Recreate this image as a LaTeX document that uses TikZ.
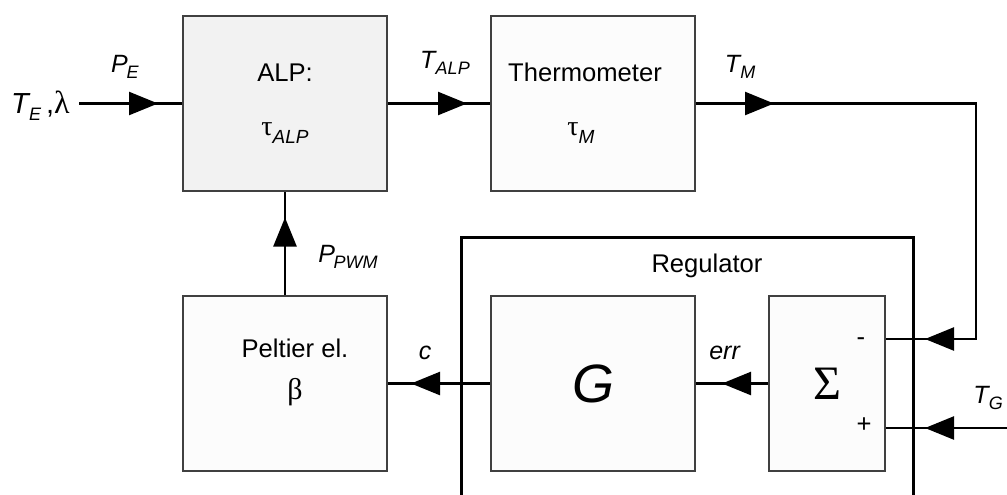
\documentclass[tikz,border=0pt]{standalone}
\usepackage{fontspec}
\setmainfont{Liberation Sans}
\newfontfamily\grk{Liberation Serif}
\usetikzlibrary{arrows.meta, positioning, decorations.markings}

\definecolor{boxgray}{HTML}{404040}
\definecolor{alpfill}{HTML}{F2F2F2}
\definecolor{boxfill}{HTML}{FCFCFC}

\newcommand{\sig}[2]{\textit{#1}\kern-0.05em\raisebox{-0.45ex}{\fontsize{9}{9}\selectfont\textit{#2}}}
\newcommand{\gsig}[2]{{\fontsize{14}{14}\selectfont\grk #1}\raisebox{-0.6ex}{\fontsize{9.5}{9.5}\selectfont\textit{#2}}}

\begin{document}
\begin{tikzpicture}[x=0.5pt, y=-0.5pt, font=\fontsize{12.8}{15}\selectfont,
    block/.style={draw=boxgray, line width=1pt, fill=boxfill, minimum width=102pt, minimum height=87.5pt, inner sep=0pt, align=center},
    flow/.style={line width=1.2pt},
    flowtip/.style={postaction={decorate, decoration={markings, mark=at position #1 with {\arrow{Triangle[length=14.5pt, width=11.5pt]}}}}},
    lab/.style={font=\fontsize{12.5}{14}\selectfont, inner sep=0pt}]

    \useasboundingbox (0,0) rectangle (1007,494);
    \clip (0,0) rectangle (1007,494);

    % Regulator
    \node[draw, line width=1.4pt, minimum width=226pt, minimum height=150pt, anchor=north west] (reg) at (460,236) {};
    \node (reglab) at (707,266) {Regulator};

    % Blocs
    \node[block, fill=alpfill] (alp) at (285,103.5) {ALP:\\[12pt]\gsig{τ}{ALP}};
    \node[block, right=51pt of alp] (thermo) {Thermometer\hspace*{8pt}\\[12pt]\gsig{τ}{M}\hspace*{12pt}};
    \node[block, below=51.5pt of alp] (peltier) {};
    \node[align=center, inner sep=0pt] (peltext) at (295,372) {Peltier el.\\[6pt]{\fontsize{15}{15}\selectfont\grk β}};
    \node[block, right=51pt of peltier, font=\fontsize{27}{30}\selectfont\itshape] (ctrl) {G};
    \node[block, minimum width=58pt, right=36pt of ctrl, font=\fontsize{24}{28}\selectfont\grk] (sum) {Σ};
    \node (minus) at (861,342) {-};
    \node (plus) at (864,425) {+};

    % Points
    \node[anchor=east, inner sep=0pt, font=\fontsize{14.5}{16}\selectfont] (tin) at (70,106) {\sig{T}{E}\,,{\fontsize{16}{16}\selectfont\grk λ}};
    \coordinate (in) at (79,103.5);
    \coordinate[right=140pt of thermo.east] (corner);
    \coordinate[above=22.25pt of sum.east] (summinus);
    \coordinate[below=22.25pt of sum.east] (sumplus);
    \coordinate[right=64pt of sumplus] (tgin);

    % Liens
    \draw[flow, flowtip=-12pt] (in) -- (alp);
    \draw[flow, flowtip=-11.5pt] (alp) -- (thermo);
    \draw[flow, flowtip=39pt, flowtip=-19.5pt] (thermo) -- (corner) |- (summinus);
    \draw[flow, flowtip=-19.5pt] (tgin) -- (sumplus);
    \draw[flow, flowtip=-13pt] (sum) -- (ctrl);
    \draw[flow, flowtip=-11.5pt] (ctrl) -- (peltier);
    \draw[flow, flowtip=-12.75pt] (peltier) -- (alp);

    % Signaux
    \node[lab] (pe) at (125,67) {\sig{P}{E}};
    \node[lab] (talp) at (445,63) {\sig{T}{ALP}};
    \node[lab] (tm) at (740,67) {\sig{T}{M}};
    \node[lab] (ppwm) at (348,257) {\sig{P}{PWM}};
    \node[lab] (c) at (425,353) {\textit{c}};
    \node[lab] (err) at (725,353) {\textit{err}};
    \node[lab] (tg) at (988,398) {\sig{T}{G}};

\end{tikzpicture}
\end{document}
